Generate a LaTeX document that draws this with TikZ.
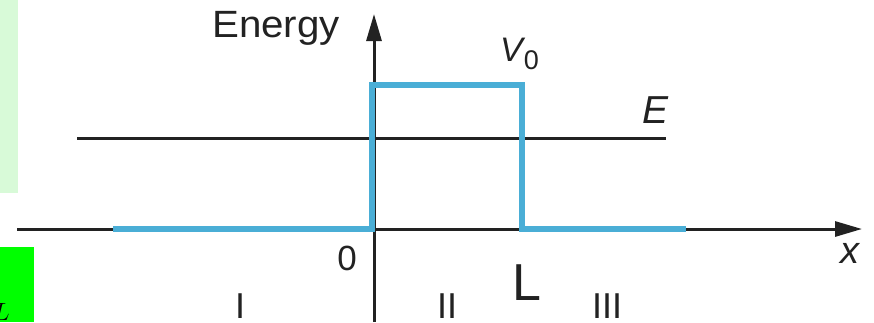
\documentclass[tikz,border=0pt]{standalone}
\usepackage{fontspec}
\setmainfont{Liberation Sans}
\usetikzlibrary{arrows.meta}
\definecolor{wellblue}{RGB}{74,174,214}
\definecolor{axisgray}{RGB}{34,34,34}
\definecolor{palegreen}{RGB}{216,250,216}
\definecolor{brightgreen}{RGB}{0,255,0}
\tikzset{
  axisline/.style={draw=axisgray, line width=3pt},
  axisarrow/.style={axisline, -{Triangle[length=27pt,width=15pt]}},
  potential/.style={draw=wellblue, line width=6pt, line join=miter},
  lbl/.style={inner sep=0pt, text=axisgray},
}
\begin{document}
\begin{tikzpicture}[x=1pt,y=-1pt]
\useasboundingbox (0,0) rectangle (874,322);
% side boxes
\fill[palegreen] (0,0) rectangle (18,193);
\fill[brightgreen] (0,247) rectangle (34,322);
\begin{scope}
  \clip (0,247) rectangle (34,322);
  \node[lbl, anchor=south east, text=black] (cutL) at (10,321) {\fontsize{55}{55}\selectfont $L$};
\end{scope}
% coordinates
\coordinate (xs) at (17,229);
\coordinate (xe) at (862,229);
\coordinate (ys) at (374,322);
\coordinate (ye) at (374,14);
\coordinate (es) at (77,138);
\coordinate (ee) at (666,138);
\coordinate (p0) at (113,229);
\coordinate (p1) at (372,229);
\coordinate (p2) at (372,85);
\coordinate (p3) at (522,85);
\coordinate (p4) at (522,229);
\coordinate (p5) at (686,229);
% axes
\draw[axisarrow] (xs) -- (xe);
\draw[axisarrow] (ys) -- (ye);
\draw[axisline] (es) -- (ee);
% potential
\draw[potential] (p0) -- (p1) -- (p2) -- (p3) -- (p4) -- (p5);
% labels
\node[lbl, anchor=base, xscale=1.06] (energy) at (276,37) {\fontsize{38}{38}\selectfont Energy};
\node[lbl, anchor=base west] (v0) at (500,61) {\fontsize{34}{34}\selectfont\itshape V\hspace{1pt}\raisebox{-8pt}{\fontsize{27}{27}\selectfont\upshape 0}};
\node[lbl, anchor=base] (elab) at (655,123) {\fontsize{39}{39}\selectfont\itshape E};
\node[lbl, anchor=base] (xlab) at (850,263) {\fontsize{38}{38}\selectfont\itshape x};
\node[lbl, anchor=base] (zero) at (347,270) {\fontsize{35}{35}\selectfont 0};
\node[lbl, anchor=base] (Llab) at (527,300) {\fontsize{52}{52}\selectfont L};
\node[lbl, anchor=base] (r1) at (240,318) {\fontsize{36}{36}\selectfont I};
\node[lbl, anchor=base] (r2) at (447,318) {\fontsize{36}{36}\selectfont II};
\node[lbl, anchor=base] (r3) at (607,318) {\fontsize{36}{36}\selectfont III};
\end{tikzpicture}
\end{document}
